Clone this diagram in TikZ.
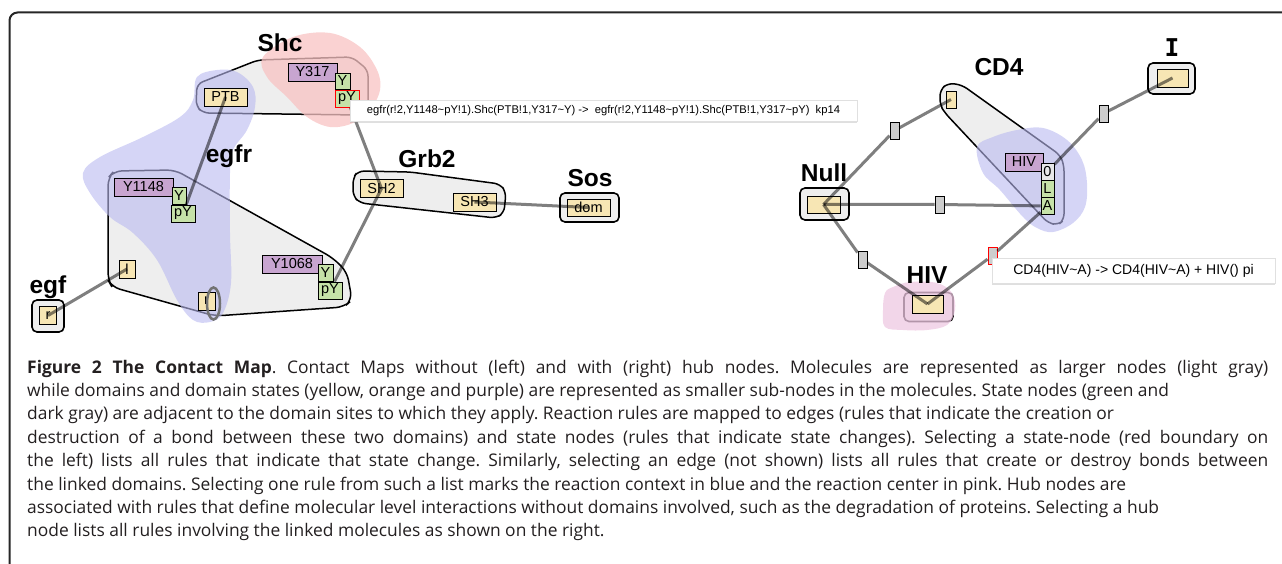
\documentclass[tikz,border=0pt]{standalone}
\usepackage{fontspec}
\setmainfont{Open Sans}
\newfontfamily\molfont{Liberation Sans}
\newfontfamily\slabfont{DejaVu Sans Mono}
\usetikzlibrary{shadows}

\definecolor{molgray}{RGB}{238,238,238}
\definecolor{domyel}{RGB}{247,230,180}
\definecolor{sitepur}{RGB}{200,165,208}
\definecolor{stategrn}{RGB}{198,226,168}
\definecolor{hubgray}{RGB}{205,205,205}
\definecolor{ctxblue}{RGB}{185,185,240}
\definecolor{ctrpink}{RGB}{248,195,195}
\definecolor{hivpink}{RGB}{238,200,226}
\definecolor{capgray}{RGB}{35,31,32}

\tikzset{
  mol/.style={draw,line width=1.6pt,fill=molgray,rounded corners=5pt,inner sep=0pt},
  molpath/.style={draw,line width=1.5pt,fill=molgray,rounded corners=6pt},
  dombox/.style={draw,line width=0.9pt,fill=domyel,inner sep=0pt,minimum height=18pt,font=\molfont\fontsize{14.5}{14.5}\selectfont},
  sitebox/.style={dombox,fill=sitepur},
  statebox/.style={dombox,fill=stategrn,minimum height=17pt},
  hubbox/.style={draw,line width=0.9pt,fill=hubgray,inner sep=0pt,minimum width=9pt,minimum height=17pt},
  molname/.style={anchor=base,inner sep=0pt,font=\molfont\bfseries\fontsize{24.5}{24.5}\selectfont},
  bond/.style={line width=3pt,black,opacity=0.5},
  ctx/.style={fill=ctxblue,fill opacity=0.6},
  ctr/.style={fill=ctrpink,fill opacity=0.75},
  tooltip/.style={draw=black!12,fill=white,inner sep=0pt,font=\molfont\fontsize{11.2}{11.2}\selectfont,drop shadow={shadow xshift=0pt,shadow yshift=-2pt,opacity=0.25}}
}

\begin{document}
\frenchspacing
\begin{tikzpicture}[x=1pt,y=-1pt]
  \useasboundingbox(0,0)rectangle(1282,564);
  \draw[line width=2pt,black!85,rounded corners=8pt](9.5,564)--(9.5,12.5)--(1282,12.5);
  \draw[molpath](197,84)--(258,60)--(352,57)--(368,70)--(368,110)--(360,115)--(203,113)--(196,106)--cycle;
  \draw[molpath,rounded corners=8pt](108,178)--(114,171)--(175,170)--(333,258)--(347,272)--(352,300)--(344,307)--(215,316)--(112,287)--(108,280)--cycle;
  \draw[molpath](353,178)--(358,171)--(410,172)--(500,184)--(506,192)--(504,213)--(496,218)--(360,203)--(353,196)--cycle;
  \draw[molpath](940,90)--(948,83)--(962,85)--(1060,155)--(1064,165)--(1064,220)--(1058,225)--(1048,223)--(945,113)--(940,105)--cycle;
  \node[mol,minimum width=32pt,minimum height=32pt](egf)at(48,316){};
  \node[mol,minimum width=59pt,minimum height=29pt](sos)at(589.5,207.5){};
  \node[mol,minimum width=49pt,minimum height=32pt](null)at(824.5,204){};
  \node[mol,minimum width=47pt,minimum height=31pt](imol)at(1171.5,78.5){};
  \node[mol,minimum width=49pt,minimum height=29pt](hiv)at(928.5,307){};

  \fill[ctx]plot[smooth cycle,tension=0.6]coordinates{(197,77)(217,70)(237,72)(253,87)(255,107)(247,130)(233,150)(230,173)(230,233)(231,283)(223,313)(210,322)(193,320)(177,300)(157,260)(133,233)(110,217)(90,193)(83,173)(100,157)(143,137)(180,117)(193,100)};
  \fill[ctr]plot[smooth cycle,tension=0.6]coordinates{(263,57)(293,37)(330,33)(360,47)(377,70)(380,90)(370,110)(353,123)(330,127)(307,117)(287,97)(267,77)};
  \fill[ctx]plot[smooth cycle,tension=0.6]coordinates{(977,147)(993,137)(1017,130)(1043,128)(1067,140)(1082,160)(1087,183)(1085,207)(1073,223)(1053,232)(1037,228)(1023,217)(1000,190)(983,173)};
  \fill[ctr,fill=hivpink]plot[smooth cycle,tension=0.6]coordinates{(885,293)(893,287)(910,282)(937,283)(952,293)(955,310)(947,325)(927,330)(903,330)(885,327)(883,310)};

  \node[dombox,minimum width=17pt](egfR)at(48,315.5){r};
  \node[dombox,minimum width=43pt](ptb)at(225.5,97){PTB};
  \node[sitebox,minimum width=49pt](y317)at(312.5,72){Y317};
  \node[statebox,minimum width=15pt,minimum height=16pt](y317u)at(342.5,81){Y};
  \node[statebox,draw=red,minimum width=24pt](y317p)at(347,98.5){pY};
  \node[sitebox,minimum width=59pt](y1148)at(143.5,187){Y1148};
  \node[statebox,minimum width=14pt](y1148u)at(179,195.5){Y};
  \node[statebox,minimum width=24pt](y1148p)at(183,213.5){pY};
  \node[sitebox,minimum width=60pt](y1068)at(292,264){Y1068};
  \node[statebox,minimum width=15pt](y1068u)at(325.5,272.5){Y};
  \node[statebox,minimum width=24pt](y1068p)at(330,290.5){pY};
  \node[dombox,minimum width=16pt](egfrL)at(127,269){l};
  \node[dombox,minimum width=17pt](egfrR)at(206.5,301){r};
  \node[dombox,minimum width=43pt](sh2)at(381.5,188.5){SH2};
  \node[dombox,minimum width=43pt](sh3)at(474.5,202){SH3};
  \node[dombox,minimum width=43pt,minimum height=17pt](sosdom)at(588.5,207.5){dom};

  \node[dombox,minimum width=33pt,minimum height=17pt](nullD)at(823.5,204.5){};
  \node[dombox,minimum width=31pt](iD)at(1172.5,78){};
  \node[dombox,minimum width=31pt](hivD)at(927.5,304){};
  \node[dombox,minimum width=10pt,minimum height=17pt](cd4D)at(951,99.5){};
  \node[sitebox,minimum width=38pt](cd4hiv)at(1024,162){HIV};
  \node[statebox,fill=black!9,minimum width=13pt](st0)at(1047.5,171.5){0};
  \node[statebox,minimum width=13pt](stL)at(1047.5,188.5){L};
  \node[statebox,minimum width=13pt](stA)at(1047.5,206){A};
  \node[hubbox](hubA)at(894.5,130.5){};
  \node[hubbox](hubB)at(939.5,204.5){};
  \node[hubbox](hubC)at(862.5,259.5){};
  \node[hubbox,draw=red](hubD)at(992.5,255.5){};
  \node[hubbox](hubE)at(1103.5,113.5){};

  \draw[bond](egfR.center)--(egfrL.center);
  \draw[bond](ptb.center)--(y1148p);
  \draw[bond](y317p)--(sh2.center);
  \draw[bond](sh2.center)--(y1068p);
  \draw[bond](sh3.center)--(sosdom.center);
  \draw[bond](nullD.center)--(hubA)--(cd4D.center);
  \draw[bond](nullD.center)--(hubB)--(stA);
  \draw[bond](nullD.center)--(hubC)--(hivD.center);
  \draw[bond](hivD.center)--(hubD)--(stA);
  \draw[bond](iD.center)--(hubE)--(st0);
  \draw[line width=2.5pt,black!55](213.5,303.5)ellipse[x radius=6.5,y radius=16];

  \node[molname](egfname)at(48,293){egf};
  \node[molname](shcname)at(280,52){Shc};
  \node[molname](egfrname)at(229,163){egfr};
  \node[molname](grbname)at(427,168){Grb2};
  \node[molname](sosname)at(590,187){Sos};
  \node[molname](nullname)at(824,182){Null};
  \node[molname](cdname)at(999,76){CD4};
  \node[molname,font=\slabfont\bfseries\fontsize{24.5}{24.5}\selectfont](iname)at(1172,57){I};
  \node[molname](hivname)at(927,283){HIV};

  \node[tooltip,minimum width=507pt,minimum height=21pt](tipA)at(603.5,110.5){egfr(r!2,Y1148\textasciitilde pY!1).Shc(PTB!1,Y317\textasciitilde Y) ->\ \ egfr(r!2,Y1148\textasciitilde pY!1).Shc(PTB!1,Y317\textasciitilde pY)\ \ kp14};
  \node[tooltip,minimum width=283pt,minimum height=25pt,font=\molfont\fontsize{14}{14}\selectfont](tipB)at(1133.5,270.5){CD4(HIV\textasciitilde A) -> CD4(HIV\textasciitilde A) + HIV() pi};

  \node[anchor=base west,inner sep=0pt,text width=1241pt,align=justify,text=capgray,font=\fontsize{17.4}{23.4}\selectfont](caption)at(27,373){\textbf{Figure 2 The Contact Map}. Contact Maps without (left) and with (right) hub nodes. Molecules are represented as larger nodes (light gray)\linebreak
  while domains and domain states (yellow, orange and purple) are represented as smaller sub-nodes in the molecules. State nodes (green and\\
  dark gray) are adjacent to the domain sites to which they apply. Reaction rules are mapped to edges (rules that indicate the creation or\\
  destruction of a bond between these two domains) and state nodes (rules that indicate state changes). Selecting a state-node (red boundary on\linebreak
  the left) lists all rules that indicate that state change. Similarly, selecting an edge (not shown) lists all rules that create or destroy bonds between\linebreak
  the linked domains. Selecting one rule from such a list marks the reaction context in blue and the reaction center in pink. Hub nodes are\\
  associated with rules that define molecular level interactions without domains involved, such as the degradation of proteins. Selecting a hub\\
  node lists all rules involving the linked molecules as shown on the right.};
\end{tikzpicture}
\end{document}
